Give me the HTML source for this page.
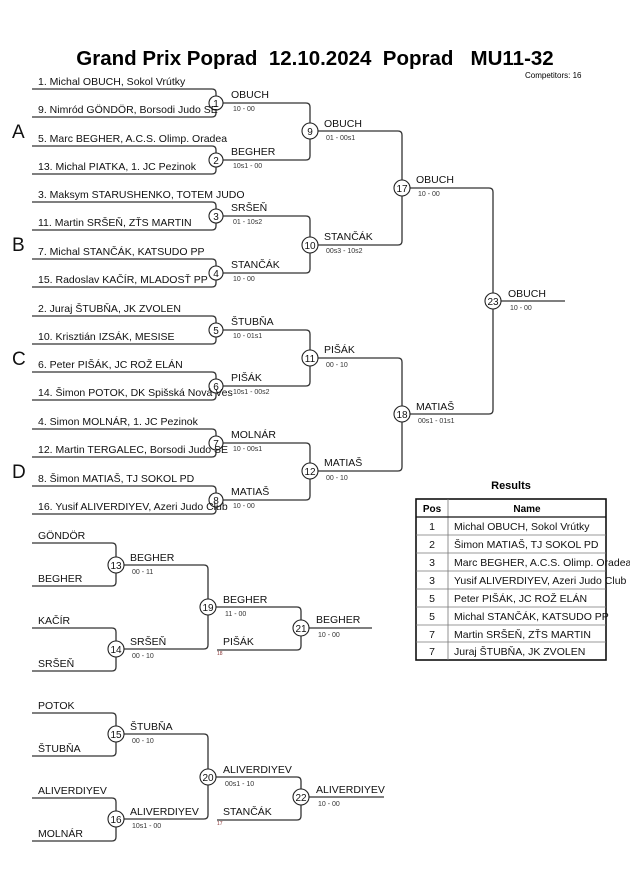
<!DOCTYPE html>
<html><head><meta charset="utf-8"><style>
html,body{margin:0;padding:0;background:#fff;}
svg{display:block;font-family:"Liberation Sans",Arial,sans-serif;}
.l{fill:none;stroke:#333;stroke-width:1.3;}
.c{fill:#fff;stroke:#222;stroke-width:1.1;}
.n{font-size:10.5px;fill:#111;}
.w{font-size:10.5px;fill:#111;}
.s{font-size:7px;fill:#333;}
.cn{font-size:10px;fill:#111;text-anchor:middle;}
.big{font-size:19px;fill:#111;}
</style></head><body>
<svg width="630" height="891" viewBox="0 0 630 891" xmlns="http://www.w3.org/2000/svg">
<text x="315" y="65" text-anchor="middle" style="font-size:20.5px;font-weight:bold" fill="#000">Grand Prix Poprad&#160; 12.10.2024&#160; Poprad&#160;&#160; MU11-32</text>
<text x="525" y="78" style="font-size:8px" fill="#000">Competitors: 16</text>
<text x="12" y="138" class="big">A</text>
<text x="12" y="251" class="big">B</text>
<text x="12" y="365" class="big">C</text>
<text x="12" y="478" class="big">D</text>

<g class="l">
<path d="M32,89 H212 q4,0 4,4 V113 q0,4 -4,4 H32"/>
<path d="M32,146 H212 q4,0 4,4 V170 q0,4 -4,4 H32"/>
<path d="M32,202 H212 q4,0 4,4 V226 q0,4 -4,4 H32"/>
<path d="M32,259 H212 q4,0 4,4 V283 q0,4 -4,4 H32"/>
<path d="M32,316 H212 q4,0 4,4 V340 q0,4 -4,4 H32"/>
<path d="M32,372 H212 q4,0 4,4 V396 q0,4 -4,4 H32"/>
<path d="M32,429 H212 q4,0 4,4 V453 q0,4 -4,4 H32"/>
<path d="M32,486 H212 q4,0 4,4 V510 q0,4 -4,4 H32"/>
<path d="M216,103 H306 q4,0 4,4 V156 q0,4 -4,4 H216"/>
<path d="M216,216 H306 q4,0 4,4 V269 q0,4 -4,4 H216"/>
<path d="M216,330 H306 q4,0 4,4 V382 q0,4 -4,4 H216"/>
<path d="M216,443 H306 q4,0 4,4 V496 q0,4 -4,4 H216"/>
<path d="M310,131 H398 q4,0 4,4 V241 q0,4 -4,4 H310"/>
<path d="M310,358 H398 q4,0 4,4 V467 q0,4 -4,4 H310"/>
<path d="M402,188 H489 q4,0 4,4 V410 q0,4 -4,4 H402"/>
<path d="M493,301 H565"/>
<path d="M32,543 H112 q4,0 4,4 V582 q0,4 -4,4 H32"/>
<path d="M32,628 H112 q4,0 4,4 V667 q0,4 -4,4 H32"/>
<path d="M116,565 H204 q4,0 4,4 V645 q0,4 -4,4 H116"/>
<path d="M208,607 H297 q4,0 4,4 V646 q0,4 -4,4 H217"/>
<path d="M301,628 H372"/>
<path d="M32,713 H112 q4,0 4,4 V752 q0,4 -4,4 H32"/>
<path d="M32,798 H112 q4,0 4,4 V837 q0,4 -4,4 H32"/>
<path d="M116,734 H204 q4,0 4,4 V815 q0,4 -4,4 H116"/>
<path d="M208,777 H297 q4,0 4,4 V816 q0,4 -4,4 H217"/>
<path d="M301,797 H384"/>
</g>

<g>
<circle class="c" cx="216" cy="103" r="7"/><text class="cn" x="216" y="107">1</text>
<circle class="c" cx="216" cy="160" r="7"/><text class="cn" x="216" y="164">2</text>
<circle class="c" cx="216" cy="216" r="7"/><text class="cn" x="216" y="220">3</text>
<circle class="c" cx="216" cy="273" r="7"/><text class="cn" x="216" y="277">4</text>
<circle class="c" cx="216" cy="330" r="7"/><text class="cn" x="216" y="334">5</text>
<circle class="c" cx="216" cy="386" r="7"/><text class="cn" x="216" y="390">6</text>
<circle class="c" cx="216" cy="443" r="7"/><text class="cn" x="216" y="447">7</text>
<circle class="c" cx="216" cy="500" r="7"/><text class="cn" x="216" y="504">8</text>
<circle class="c" cx="310" cy="131" r="8"/><text class="cn" x="310" y="135">9</text>
<circle class="c" cx="310" cy="245" r="8"/><text class="cn" x="310" y="249">10</text>
<circle class="c" cx="310" cy="358" r="8"/><text class="cn" x="310" y="362">11</text>
<circle class="c" cx="310" cy="471" r="8"/><text class="cn" x="310" y="475">12</text>
<circle class="c" cx="402" cy="188" r="8"/><text class="cn" x="402" y="192">17</text>
<circle class="c" cx="402" cy="414" r="8"/><text class="cn" x="402" y="418">18</text>
<circle class="c" cx="493" cy="301" r="8"/><text class="cn" x="493" y="305">23</text>
<circle class="c" cx="116" cy="565" r="8"/><text class="cn" x="116" y="569">13</text>
<circle class="c" cx="116" cy="649" r="8"/><text class="cn" x="116" y="653">14</text>
<circle class="c" cx="208" cy="607" r="8"/><text class="cn" x="208" y="611">19</text>
<circle class="c" cx="301" cy="628" r="8"/><text class="cn" x="301" y="632">21</text>
<circle class="c" cx="116" cy="734" r="8"/><text class="cn" x="116" y="738">15</text>
<circle class="c" cx="116" cy="819" r="8"/><text class="cn" x="116" y="823">16</text>
<circle class="c" cx="208" cy="777" r="8"/><text class="cn" x="208" y="781">20</text>
<circle class="c" cx="301" cy="797" r="8"/><text class="cn" x="301" y="801">22</text>
</g>

<g class="n">
<text x="38" y="85">1. Michal OBUCH, Sokol Vrútky</text>
<text x="38" y="113">9. Nimród GÖNDÖR, Borsodi Judo SE</text>
<text x="38" y="142">5. Marc BEGHER, A.C.S. Olimp. Oradea</text>
<text x="38" y="170">13. Michal PIATKA, 1. JC Pezinok</text>
<text x="38" y="198">3. Maksym STARUSHENKO, TOTEM JUDO</text>
<text x="38" y="226">11. Martin SRŠEŇ, ZŤS MARTIN</text>
<text x="38" y="255">7. Michal STANČÁK, KATSUDO PP</text>
<text x="38" y="283">15. Radoslav KAČÍR, MLADOSŤ PP</text>
<text x="38" y="312">2. Juraj ŠTUBŇA, JK ZVOLEN</text>
<text x="38" y="340">10. Krisztián IZSÁK, MESISE</text>
<text x="38" y="368">6. Peter PIŠÁK, JC ROŽ ELÁN</text>
<text x="38" y="396">14. Šimon POTOK, DK Spišská Nová Ves</text>
<text x="38" y="425">4. Simon MOLNÁR, 1. JC Pezinok</text>
<text x="38" y="453">12. Martin TERGALEC, Borsodi Judo SE</text>
<text x="38" y="482">8. Šimon MATIAŠ, TJ SOKOL PD</text>
<text x="38" y="510">16. Yusif ALIVERDIYEV, Azeri Judo Club</text>
<text x="38" y="539">GÖNDÖR</text>
<text x="38" y="582">BEGHER</text>
<text x="38" y="624">KAČÍR</text>
<text x="38" y="667">SRŠEŇ</text>
<text x="38" y="709">POTOK</text>
<text x="38" y="752">ŠTUBŇA</text>
<text x="38" y="794">ALIVERDIYEV</text>
<text x="38" y="837">MOLNÁR</text>
</g>

<g class="w">
<text x="231" y="98">OBUCH</text><text class="s" x="233" y="111">10 - 00</text>
<text x="231" y="155">BEGHER</text><text class="s" x="233" y="168">10s1 - 00</text>
<text x="231" y="211">SRŠEŇ</text><text class="s" x="233" y="224">01 - 10s2</text>
<text x="231" y="268">STANČÁK</text><text class="s" x="233" y="281">10 - 00</text>
<text x="231" y="325">ŠTUBŇA</text><text class="s" x="233" y="338">10 - 01s1</text>
<text x="231" y="381">PIŠÁK</text><text class="s" x="233" y="394">10s1 - 00s2</text>
<text x="231" y="438">MOLNÁR</text><text class="s" x="233" y="451">10 - 00s1</text>
<text x="231" y="495">MATIAŠ</text><text class="s" x="233" y="508">10 - 00</text>
<text x="324" y="127">OBUCH</text><text class="s" x="326" y="140">01 - 00s1</text>
<text x="324" y="240">STANČÁK</text><text class="s" x="326" y="253">00s3 - 10s2</text>
<text x="324" y="353">PIŠÁK</text><text class="s" x="326" y="367">00 - 10</text>
<text x="324" y="466">MATIAŠ</text><text class="s" x="326" y="480">00 - 10</text>
<text x="416" y="183">OBUCH</text><text class="s" x="418" y="196">10 - 00</text>
<text x="416" y="410">MATIAŠ</text><text class="s" x="418" y="423">00s1 - 01s1</text>
<text x="508" y="297">OBUCH</text><text class="s" x="510" y="310">10 - 00</text>
<text x="130" y="561">BEGHER</text><text class="s" x="132" y="574">00 - 11</text>
<text x="130" y="645">SRŠEŇ</text><text class="s" x="132" y="658">00 - 10</text>
<text x="223" y="603">BEGHER</text><text class="s" x="225" y="616">11 - 00</text>
<text x="223" y="645">PIŠÁK</text><text style="font-size:5px" fill="#833" x="217" y="655">18</text>
<text x="316" y="623">BEGHER</text><text class="s" x="318" y="637">10 - 00</text>
<text x="130" y="730">ŠTUBŇA</text><text class="s" x="132" y="743">00 - 10</text>
<text x="130" y="815">ALIVERDIYEV</text><text class="s" x="132" y="828">10s1 - 00</text>
<text x="223" y="773">ALIVERDIYEV</text><text class="s" x="225" y="786">00s1 - 10</text>
<text x="223" y="815">STANČÁK</text><text style="font-size:5px" fill="#833" x="217" y="825">17</text>
<text x="316" y="793">ALIVERDIYEV</text><text class="s" x="318" y="806">10 - 00</text>
</g>

<text x="511" y="489" text-anchor="middle" style="font-size:11px;font-weight:bold" fill="#000">Results</text>
<g>
<rect x="416" y="499" width="190" height="161" fill="#fff" stroke="#111" stroke-width="1.6"/>
<g stroke="#777" stroke-width="0.8">
<line x1="448" y1="499" x2="448" y2="660"/>
<line x1="416" y1="517" x2="606" y2="517" stroke="#111" stroke-width="1.2"/>
<line x1="416" y1="535" x2="606" y2="535"/>
<line x1="416" y1="553" x2="606" y2="553"/>
<line x1="416" y1="571" x2="606" y2="571"/>
<line x1="416" y1="589" x2="606" y2="589"/>
<line x1="416" y1="607" x2="606" y2="607"/>
<line x1="416" y1="625" x2="606" y2="625"/>
<line x1="416" y1="642" x2="606" y2="642"/>
</g>
<text x="432" y="512" text-anchor="middle" style="font-size:10px;font-weight:bold">Pos</text>
<text x="527" y="512" text-anchor="middle" style="font-size:10px;font-weight:bold">Name</text>
<g class="n">
<text x="432" y="530" text-anchor="middle">1</text><text x="454" y="530">Michal OBUCH, Sokol Vrútky</text>
<text x="432" y="548" text-anchor="middle">2</text><text x="454" y="548">Šimon MATIAŠ, TJ SOKOL PD</text>
<text x="432" y="566" text-anchor="middle">3</text><text x="454" y="566">Marc BEGHER, A.C.S. Olimp. Oradea</text>
<text x="432" y="584" text-anchor="middle">3</text><text x="454" y="584">Yusif ALIVERDIYEV, Azeri Judo Club</text>
<text x="432" y="602" text-anchor="middle">5</text><text x="454" y="602">Peter PIŠÁK, JC ROŽ ELÁN</text>
<text x="432" y="620" text-anchor="middle">5</text><text x="454" y="620">Michal STANČÁK, KATSUDO PP</text>
<text x="432" y="638" text-anchor="middle">7</text><text x="454" y="638">Martin SRŠEŇ, ZŤS MARTIN</text>
<text x="432" y="655" text-anchor="middle">7</text><text x="454" y="655">Juraj ŠTUBŇA, JK ZVOLEN</text>
</g>
</g>
</svg>
</body></html>
